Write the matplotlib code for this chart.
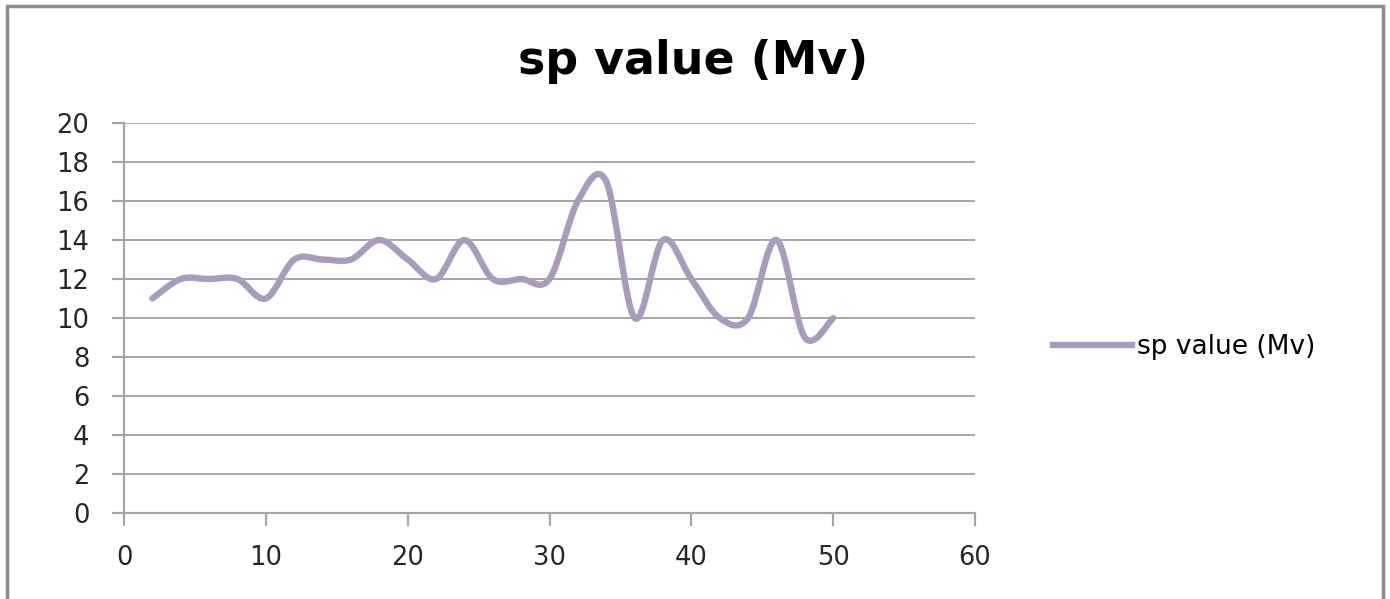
import matplotlib
matplotlib.use("Agg")
import matplotlib.pyplot as plt
from matplotlib.path import Path
from matplotlib.patches import PathPatch, Rectangle
from matplotlib.lines import Line2D

# Data
x_vals = [2, 4, 6, 8, 10, 12, 14, 16, 18, 20, 22, 24, 26, 28, 30, 32, 34, 36, 38, 40, 42, 44, 46, 48, 50]
y_vals = [11, 12, 12, 12, 11, 13, 13, 13, 14, 13, 12, 14, 12, 12, 12, 16, 17, 10, 14, 12, 10, 10, 14, 9, 10]
series_name = "sp value (Mv)"
title_text = "sp value (Mv)"
x_ticks = [0, 10, 20, 30, 40, 50, 60]
y_ticks = [0, 2, 4, 6, 8, 10, 12, 14, 16, 18, 20]

LINE_COLOR = "#A99BBD"
GRID_COLOR = "#A6A6A6"
FONT = "DejaVu Sans"

fig = plt.figure(figsize=(13.9, 5.99), dpi=100)
ax = fig.add_axes([124/1390, 1-513/599, (975-124)/1390, (513-123)/599])

# Smoothed line (Excel-like) built as cubic Bezier path through data points
verts = [(x_vals[0], y_vals[0])]
codes = [Path.MOVETO]
n = len(x_vals)
for i in range(n - 1):
    x0, y0 = (x_vals[i-1], y_vals[i-1]) if i > 0 else (x_vals[i], y_vals[i])
    x1, y1 = x_vals[i], y_vals[i]
    x2, y2 = x_vals[i+1], y_vals[i+1]
    x3, y3 = (x_vals[i+2], y_vals[i+2]) if i + 2 < n else (x2, y2)
    c1 = (x1 + (x2 - x0) / 6, y1 + (y2 - y0) / 6)
    c2 = (x2 - (x3 - x1) / 6, y2 - (y3 - y1) / 6)
    verts += [c1, c2, (x2, y2)]
    codes += [Path.CURVE4, Path.CURVE4, Path.CURVE4]
patch = PathPatch(Path(verts, codes), facecolor="none", edgecolor=LINE_COLOR,
                  lw=4.6, capstyle="round", joinstyle="round", zorder=3)
ax.add_patch(patch)

ax.set_xlim(0, 60)
ax.set_ylim(0, 20)
ax.set_xticks(x_ticks)
ax.set_yticks(y_ticks)
ax.set_xticklabels([str(t) for t in x_ticks], fontfamily=FONT, fontsize=18.5, color="#262626")
ax.set_yticklabels([str(t) for t in y_ticks], fontfamily=FONT, fontsize=18.5, color="#262626")
ax.yaxis.grid(True, color=GRID_COLOR, lw=1.4)
ax.set_axisbelow(True)
for s in ["top", "right"]:
    ax.spines[s].set_visible(False)
for s in ["left", "bottom"]:
    ax.spines[s].set_color(GRID_COLOR)
    ax.spines[s].set_linewidth(1.6)
ax.tick_params(axis="both", color=GRID_COLOR, width=1.6, length=9, direction="out")
ax.tick_params(axis="y", pad=16)
ax.tick_params(axis="x", pad=14)

fig.text(693/1390, 1-62/599, title_text, ha="center", va="center",
         fontfamily=FONT, fontweight="bold", fontsize=33, color="black")

# legend
handle = Line2D([], [], color=LINE_COLOR, lw=4.6)
fig.legend([handle], [series_name], loc="center left",
           bbox_to_anchor=(1053/1390, 1-347/599), frameon=False,
           prop={"family": FONT, "size": 19}, handlelength=3.0, handletextpad=0.2,
           borderaxespad=0, borderpad=0)

# outer border
fig.add_artist(Rectangle((7/1390, -0.1), (1383-7)/1390, 1.1 - 6/599, transform=fig.transFigure,
                         fill=False, edgecolor="#8C8C8C", lw=2.5))

fig.savefig("out.png", dpi=100, facecolor="white")
